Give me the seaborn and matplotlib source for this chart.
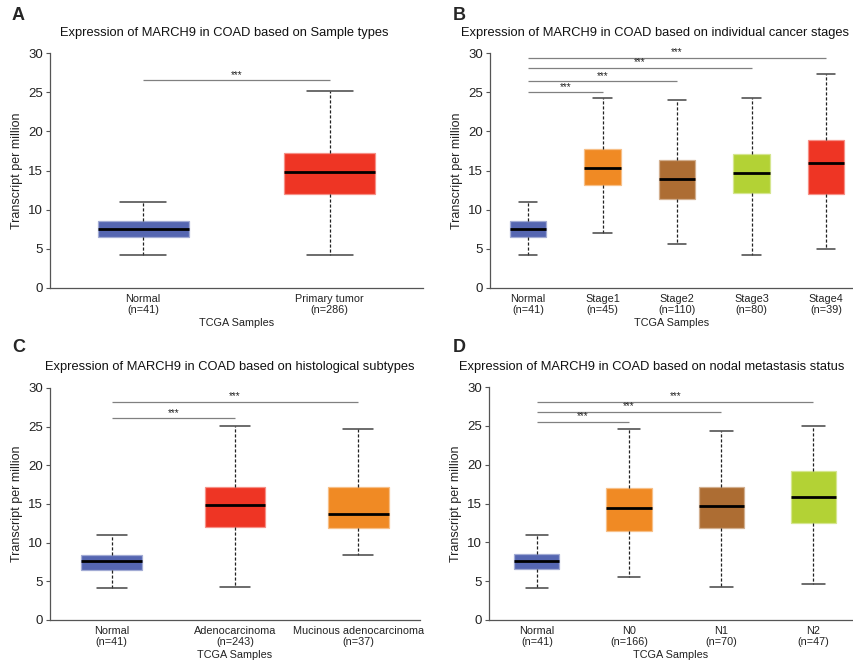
## Expressao de MARCH9 em COAD (UALCAN) - 4 paineis

import numpy as np
import pandas as pd
import matplotlib
matplotlib.use("Agg")
import matplotlib.pyplot as plt
import matplotlib.colors as mcolors
import seaborn as sns
import warnings

warnings.filterwarnings("ignore")
sns.set_style("ticks")
plt.rcParams['font.family'] = ['Liberation Sans', 'DejaVu Sans']

# Cores
AZUL = '#5566b1'
VERMELHO = '#ee3524'
LARANJA = '#f08a24'
MARROM = '#ad6d33'
VERDE = '#b3d235'

## Dados (min, Q1, mediana, Q3, max)

# A - tipo de amostra
grupos_a = ['Normal\n(n=41)', 'Primary tumor\n(n=286)']
min_a = [4.17, 4.26]
q1_a = [6.55, 11.96]
med_a = [7.57, 14.75]
q3_a = [8.6, 17.2]
max_a = [11.0, 25.1]
sig_a = [26.5]

# B - estagios
grupos_b = ['Normal\n(n=41)', 'Stage1\n(n=45)', 'Stage2\n(n=110)', 'Stage3\n(n=80)', 'Stage4\n(n=39)']
min_b = [4.17, 7.06, 5.6, 4.26, 4.94]
q1_b = [6.55, 13.1, 11.36, 12.1, 12.0]
med_b = [7.53, 15.3, 13.96, 14.7, 16.0]
q3_b = [8.6, 17.8, 16.3, 17.1, 18.9]
max_b = [11.0, 24.3, 24.0, 24.3, 27.3]
sig_b = [25.0, 26.4, 28.1, 29.4]

# C - subtipos histologicos
grupos_c = ['Normal\n(n=41)', 'Adenocarcinoma\n(n=243)', 'Mucinous adenocarcinoma\n(n=37)']
min_c = [4.13, 4.26, 8.44]
q1_c = [6.5, 12.05, 11.84]
med_c = [7.58, 14.9, 13.77]
q3_c = [8.44, 17.26, 17.26]
max_c = [10.98, 25.1, 24.75]
sig_c = [26.1, 28.2]

# D - metastase nodal
grupos_d = ['Normal\n(n=41)', 'N0\n(n=166)', 'N1\n(n=70)', 'N2\n(n=47)']
min_d = [4.16, 5.57, 4.24, 4.59]
q1_d = [6.51, 11.49, 11.83, 12.5]
med_d = [7.59, 14.36, 14.74, 15.9]
q3_d = [8.44, 16.97, 17.1, 19.16]
max_d = [10.97, 24.6, 24.3, 25.0]
sig_d = [25.5, 26.83, 28.1]


def monta_df(grupos, mn, q1, med, q3, mx):
    # cinco pontos por grupo -> quartis exatos no boxplot
    linhas = []
    for i, g in enumerate(grupos):
        for v in (mn[i], q1[i], med[i], q3[i], mx[i]):
            linhas.append({'grupo': g, 'valor': v})
    return pd.DataFrame(linhas)


def clarear(cor, f=0.45):
    r, g, b = mcolors.to_rgb(cor)
    return (r + (1 - r) * f, g + (1 - g) * f, b + (1 - b) * f)


def painel(ax, df, grupos, cores, sig, xlim, titulo, pos_titulo, letra, pos_letra):
    sns.boxplot(data=df, x='grupo', y='valor', hue='grupo', order=grupos,
                hue_order=grupos, palette=cores, saturation=1, width=0.49, whis=(0, 100),
                legend=False, ax=ax, linewidth=0.9,
                medianprops=dict(color='black', linewidth=2),
                whiskerprops=dict(color='#222222', linestyle=(0, (2.5, 1.5)), linewidth=0.9),
                capprops=dict(color='#444444', linewidth=1.1),
                showfliers=False)
    for p, c in zip(ax.patches, cores):
        p.set_edgecolor(clarear(c))
    # barras de significancia
    for k, y in enumerate(sig):
        ax.plot([0, k + 1], [y, y], color='#808080', lw=0.9, solid_capstyle='butt')
        ax.text((k + 1) / 2, y + 0.05, '***', ha='center', va='bottom', fontsize=7, color='#222222')
    ax.set_ylim(0, 30)
    ax.set_xlim(*xlim)
    ax.set_yticks([0, 5, 10, 15, 20, 25, 30])
    ax.tick_params(axis='y', labelsize=9.5, length=3, width=0.8, color='#555555', labelcolor='#222222', pad=2)
    ax.tick_params(axis='x', labelsize=7.8, length=0, pad=4, labelcolor='#222222')
    ax.set_ylabel('Transcript per million', fontsize=9, color='#222222', labelpad=4)
    ax.set_xlabel('TCGA Samples', fontsize=7.8, color='#222222', labelpad=2)
    sns.despine(ax=ax)
    for s in ('left', 'bottom'):
        ax.spines[s].set_color('#555555')
        ax.spines[s].set_linewidth(0.9)
    fig.text(pos_titulo[0], pos_titulo[1], titulo, ha='center', va='center', fontsize=9.3, color='#111111')
    fig.text(pos_letra[0], pos_letra[1], letra, ha='left', va='center', fontsize=13, fontweight='bold')


fig = plt.figure(figsize=(8.54, 6.66), dpi=100)
W, H = 854, 666

def eixo(esq, dir_, topo, base):
    return fig.add_axes([esq / W, 1 - base / H, (dir_ - esq) / W, (base - topo) / H])

ax_a = eixo(50, 423, 53, 288)
ax_b = eixo(490, 853, 53, 288)
ax_c = eixo(50, 420, 388, 620)
ax_d = eixo(489, 853, 387, 620)

painel(ax_a, monta_df(grupos_a, min_a, q1_a, med_a, q3_a, max_a), grupos_a,
       [AZUL, VERMELHO], sig_a, (-0.5, 1.5),
       'Expression of MARCH9 in COAD based on Sample types', (224 / W, 1 - 33 / H),
       'A', (12 / W, 1 - 15 / H))
painel(ax_b, monta_df(grupos_b, min_b, q1_b, med_b, q3_b, max_b), grupos_b,
       [AZUL, LARANJA, MARROM, VERDE, VERMELHO], sig_b, (-0.51, 4.36),
       'Expression of MARCH9 in COAD based on individual cancer stages', (655 / W, 1 - 33 / H),
       'B', (453 / W, 1 - 15 / H))
painel(ax_c, monta_df(grupos_c, min_c, q1_c, med_c, q3_c, max_c), grupos_c,
       [AZUL, VERMELHO, LARANJA], sig_c, (-0.5, 2.5),
       'Expression of MARCH9 in COAD based on histological subtypes', (230 / W, 1 - 367 / H),
       'C', (12 / W, 1 - 348 / H))
painel(ax_d, monta_df(grupos_d, min_d, q1_d, med_d, q3_d, max_d), grupos_d,
       [AZUL, LARANJA, MARROM, VERDE], sig_d, (-0.52, 3.43),
       'Expression of MARCH9 in COAD based on nodal metastasis status', (652 / W, 1 - 367 / H),
       'D', (453 / W, 1 - 348 / H))

fig.savefig('out.png', dpi=100)
